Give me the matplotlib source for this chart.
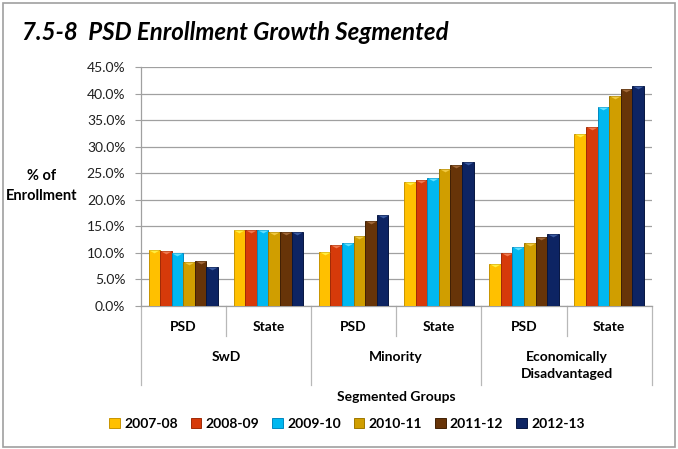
"""PSD enrollment growth, segmented groups (clustered bar chart)."""

import matplotlib

matplotlib.use('Agg')
from matplotlib import pyplot as plt  # noqa: E402
from matplotlib import transforms as mtransforms  # noqa: E402
from matplotlib.patches import Rectangle  # noqa: E402
from matplotlib.ticker import FuncFormatter  # noqa: E402

plt.rcParams['font.family'] = ['Lato', 'DejaVu Sans']

sub_labels = ['PSD', 'State', 'PSD', 'State', 'PSD', 'State']
group_labels = ['SwD', 'Minority', 'Economically\nDisadvantaged']
years = ['2007-08', '2008-09', '2009-10', '2010-11', '2011-12', '2012-13']

# values per year, one per category (SwD PSD, SwD State, Min PSD, Min State, Econ PSD, Econ State)
v2007 = [0.105, 0.143, 0.102, 0.233, 0.079, 0.323]
v2008 = [0.104, 0.143, 0.115, 0.237, 0.100, 0.337]
v2009 = [0.099, 0.143, 0.119, 0.241, 0.111, 0.374]
v2010 = [0.083, 0.139, 0.132, 0.257, 0.119, 0.395]
v2011 = [0.085, 0.140, 0.160, 0.265, 0.129, 0.409]
v2012 = [0.074, 0.140, 0.171, 0.271, 0.135, 0.415]
series = [v2007, v2008, v2009, v2010, v2011, v2012]

colors = ['#FFC000', '#D63A0A', '#00B8F0', '#D09E00', '#673408', '#0D2463']
edges = ['#C89400', '#A02A06', '#0088C0', '#9E7800', '#402004', '#071640']
lights = ['#FFEE40', '#F07A50', '#60E0FF', '#F0C840', '#A06838', '#3A5AA0']

fig = plt.figure(figsize=(6.78, 4.49), dpi=100)
ax = fig.add_axes([0.2075, 0.3185, 0.7537, 0.5323])

bar_w = 0.136
bevel = matplotlib.markers.MarkerStyle(
    matplotlib.path.Path([(-1, 0), (1, 0), (0, -0.55), (-1, 0)])
)
for i, (vals, label) in enumerate(zip(series, years)):
    xs = [c + (i - 2.5) * bar_w for c in range(len(sub_labels))]
    ax.bar(xs, vals, width=bar_w, color=colors[i], edgecolor=edges[i],
           linewidth=0.7, label=label, zorder=3)
    ax.plot(xs, vals, linestyle='none', marker=bevel, markersize=7.5,
            color=lights[i], markeredgewidth=0, zorder=4)

ax.set_xlim(-0.5, 5.5)
ax.set_ylim(0, 0.45)
ax.set_yticks([i * 0.05 for i in range(10)])
ax.yaxis.set_major_formatter(FuncFormatter(lambda v, _: f'{v * 100:.1f}%'))
ax.tick_params(axis='y', length=4, width=0.8, color='#A0A0A0', pad=7,
               labelsize=10, labelcolor='#202020')
ax.set_xticks(range(len(sub_labels)))
ax.set_xticklabels(sub_labels, fontweight='bold', fontsize=10)
ax.tick_params(axis='x', length=0, pad=11)
ax.grid(True, axis='y', color='#A0A0A0', linewidth=0.9, zorder=0)
for side in ['top', 'right']:
    ax.spines[side].set_visible(False)
for side in ['left', 'bottom']:
    ax.spines[side].set_color('#A0A0A0')
    ax.spines[side].set_linewidth(0.9)

# multi-level category separators below the axis
trans = mtransforms.blended_transform_factory(ax.transData, ax.transAxes)
for b in [-0.5, 0.5, 1.5, 2.5, 3.5, 4.5, 5.5]:
    depth = 0.125 if b in (0.5, 2.5, 4.5) else 0.33
    ax.plot([b, b], [0, -depth], transform=trans, color='#B8B8B8',
            linewidth=0.9, clip_on=False)
for g, name in enumerate(group_labels):
    y = -0.212 if '\n' not in name else -0.25
    ax.text(2 * g + 0.5, y, name, transform=trans, ha='center', va='center',
            fontweight='bold', fontsize=10, linespacing=1.55)

ax.text(0.5, -0.38, 'Segmented Groups', transform=ax.transAxes, ha='center',
        va='center', fontweight='bold', fontsize=10)
fig.text(42 / 678, 1 - 186 / 449, '% of\nEnrollment', ha='center', va='center',
         fontweight='bold', fontsize=10.5, linespacing=1.6)
fig.text(22 / 678, 1 - 32 / 449, '7.5-8  PSD Enrollment Growth Segmented',
         ha='left', va='center', fontweight='bold', fontstyle='italic',
         fontsize=17.3)

fig.legend(loc='center', bbox_to_anchor=(347 / 678, 1 - 424 / 449), ncol=6,
           frameon=False, handlelength=0.75, handleheight=0.75,
           handletextpad=0.3, columnspacing=0.95,
           prop={'weight': 'bold', 'size': 10})

fig.add_artist(Rectangle((0.005, 0.004), 0.99, 0.99, transform=fig.transFigure,
                         fill=False, edgecolor='#A0A0A0', linewidth=1.2))

fig.savefig('out.png', dpi=100)
plt.close(fig)
